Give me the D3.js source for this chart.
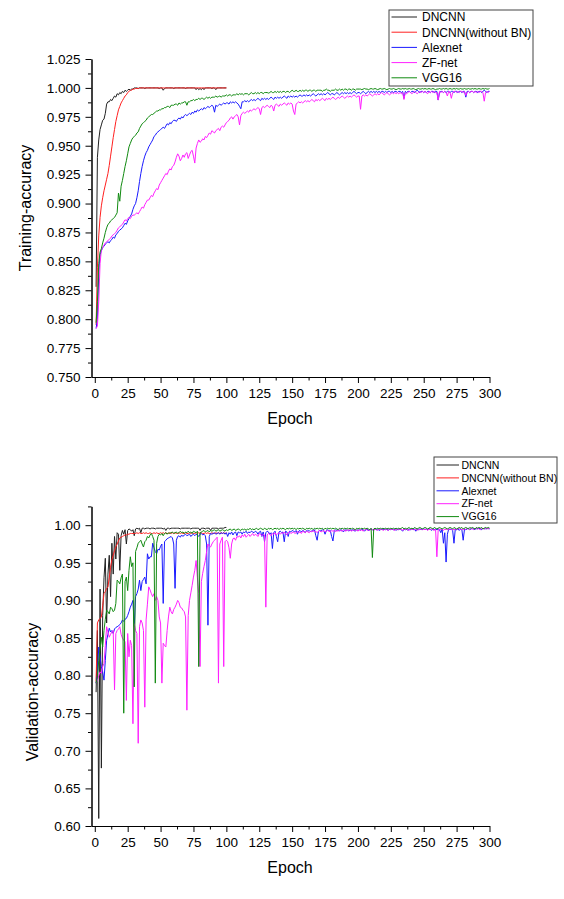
<!DOCTYPE html>
<html>
<head>
<meta charset="utf-8">
<script src="https://d3js.org/d3.v7.min.js"></script>
<style>
  body { margin: 0; background: #fff; }
  svg { display: block; font-family: "Liberation Sans", Arial, sans-serif; }
</style>
</head>
<body>
<div id="chart"></div>
<script>
// accuracy values are kept in thousandths, one value per epoch (epoch 1 first)
const seriesNames = ["DNCNN", "DNCNN(without BN)", "Alexnet", "ZF-net", "VGG16"];
const seriesColors = ["#222222", "#ff2020", "#1a1aff", "#ff20ff", "#118a11"];

const epochTicks = [0, 25, 50, 75, 100, 125, 150, 175, 200, 225, 250, 275, 300];
const epochMinor = [12.5, 37.5, 62.5, 87.5, 112.5, 137.5, 162.5, 187.5, 212.5, 237.5, 262.5, 287.5];
const trainTicks = [0.750, 0.775, 0.800, 0.825, 0.850, 0.875, 0.900, 0.925, 0.950, 0.975, 1.000, 1.025];
const trainMinor = [0.7625, 0.7875, 0.8125, 0.8375, 0.8625, 0.8875, 0.9125, 0.9375, 0.9625, 0.9875, 1.0125];
const valTicks = [0.60, 0.65, 0.70, 0.75, 0.80, 0.85, 0.90, 0.95, 1.00];
const valMinor = [0.625, 0.675, 0.725, 0.775, 0.825, 0.875, 0.925, 0.975, 1.025];

// ---- training accuracy ----
const trainDncnn = [
  828,940,955,964,968,972,973,978,986,988,
  988,990,989,991,993,992,995,994,996,995,
  997,996,998,997,998,999,998,999,999,1000,
  1000,1000,999.5,1000,1000,1000,1000,999.5,1000,1000,
  1000,1000,1000,1000,1000,1000,1000,1000,999.5,1000,
  1000,998,999.5,1000,1000,1000,1000,1000,1000,999.5,
  1000,1000,1000,1000,1000,1000,1000,1000,999.5,1000,
  1000,1000,1000,1000,1000,1000,998.5,1000,998.5,999.5,
  998.5,1000,998.5,1000,1000,1000,1000,1000,999.5,1000,
  1000,998.5,1000,1000,1000,1000,1000,1000,1000,1000
];
const trainDncnnNoBn = [
  795,845,872,888,898,905,911,916,921,926,
  933,941,949,957,964,971,976,981,984,987,
  989,991,993,994,996,997,998,998,999,999,
  999.5,999.5,999.5,1000,1000,1000,1000,1000,1000,1000,
  1000,1000,1000,1000,1000,1000,1000,1000,1000,1000,
  1000,1000,1000,1000,1000,1000,1000,1000,1000,1000,
  1000,1000,1000,1000,1000,1000,1000,1000,1000,1000,
  1000,1000,1000,1000,1000,1000,1000,1000,1000,1000,
  1000,1000,1000,1000,1000,1000,1000,1000,1000,1000,
  1000,1000,1000,1000,1000,1000,1000,1000,1000,1000
];
const trainAlexnet = [
  792,800,840,856,859,862,863,865,866,867,
  866,868,869,871,870,873,874,876,877,878,
  879,881,883,882,885,887,889,891,895,898,
  900,905,911,919,926,932,937,941,944,946,
  949,951,953,955,958,959,961,962,963,964,
  965,966,965,967,969,968,970,969,971,972,
  972,971,973,974,973,975,974,976,977,976,
  977,978,977,979,978,980,979,981,980,981,
  982,981,983,982,983,984,983,984,985,984,
  979,985,984,985,986,985,986,987,986,987,
  987,986,988,987,988,987,988,987,986,984,
  982,988,988,989,988,989,988,989,990,989,
  990,989,990,991,990,989,991,990,991,990,
  991,990,991,992,991,990,992,991,992,991,
  992,991,992,993,992,991,993,992,993,992,
  993,992,993,992,993,994,993,993,994,993,
  994,993,994,993,994,995,994,993,994,995,
  994,995,994,995,994,995,996,995,994,995,
  995,994,995,996,995,994,995,996,995,996,
  995,996,995,996,995,996,997,996,995,996,
  996,995,996,997,996,995,996,997,996,997,
  996,997,996,997,996,997,996,997,997,996,
  997,996,997,997,996,997,996,997,997,996,
  997,997,996,997,991,997,996,997,997,996,
  997,997,996,997,998,997,996,997,997,996,
  997,996,997,997,996,997,997,996,997,997,
  989.5,996,997,997,996,997,996,997,997,996,
  997,997,996,997,997,996,997,997,996,997,
  997,992,997,997,996,997,997,996,997,997,
  996,997,997,996,997,998,997,996,997,997
];
const trainZfnet = [
  792,794,815,848,860,862,864,866,867,868,
  869,870,872,873,874,875,877,879,880,881,
  882,884,886,885,887,888,887,889,890,890,
  891,892,891,893,895,897,896,899,901,903,
  903,905,907,906,909,911,913,912,916,918,
  920,922,924,926,925,928,930,929,932,933,
  936,940,943,941,937,939,942,940,943,944,
  939,942,945,946,941,935,948,952,955,953,
  954,956,955,958,957,959,961,960,963,962,
  961,963,964,965,963,966,967,966,968,970,
  971,972,974,975,973,975,976,977,975,968,
  976,978,979,978,979,980,979,981,980,981,
  982,981,982,983,982,977,983,984,983,984,
  985,984,983,985,984,980,985,986,985,984,
  986,985,986,987,986,985,987,986,987,986,
  980,977,986,987,988,987,988,987,988,989,
  988,989,988,989,990,989,988,990,989,990,
  989,990,991,990,989,991,990,991,990,991,
  992,991,990,991,992,991,992,993,992,991,
  992,993,992,993,992,993,994,993,992,993,
  993,981.5,993,994,993,994,993,994,995,994,
  993,994,995,994,995,994,995,996,995,994,
  995,996,995,994,995,996,995,996,995,996,
  995,996,995,996,990,996,995,996,997,996,
  995,996,997,996,995,996,997,996,997,996,
  997,996,995,997,996,997,996,997,996,996,
  989.5,997,996,997,996,997,996,993,997,996,
  991,996,997,997,996,997,996,997,997,996,
  997,993.5,996,997,996,997,997,996,997,996,
  997,996,997,997,996,988.5,996,997,996,997
];
const trainVgg16 = [
  797,815,848,858,861,866,870,875,879,882,
  883,885,886,887,888,890,892,909,902,915,
  920,926,932,937,943,949,952,955,957,958,
  959,961,962,965,967,969,970,971,972,974,
  975,976,977,977,978,979,980,980,981,981,
  982,982,983,983,984,984,983,985,985,985,
  986,986,985,987,986,987,987,988,988,985,
  988,988,989,989,990,989,990,990,991,990,
  991,991,990,991,992,991,992,991,992,992,
  992,993,992,992.5,993,992,993,993,993,994,
  993,994,994,993,994,994,994,995,994,995,
  994.5,995,994,995,995,995,994,995,996,995,
  995,996,995,996,995,996,996,995,996,996,
  996,995.5,996,997,996,996,997,996,997,996,
  997,996,997,997,996,997,997,996,997,998,
  997,997,998,997,997,998,997,998,997,998,
  998,997,998,998,997,998,998,997,998,998,
  998,998,997,998,998,999,998,998,997,998,
  998,998,999,998,998,999,998,999,998,999,
  999,998,999,999,998,999,999,998,999,999,
  999,999,998.5,999,999.5,999,999,998.5,999,999.5,
  999,999,999.5,999,998.5,999,999.5,999,999,999.5,
  999,998.5,999,999.5,999,999,999.5,999,998.5,999,
  999.5,999,999,999.5,999,999.5,999,999,999.5,999,
  999,999.5,999,998.5,999,999.5,999,999,999.5,999,
  999.5,999,999,999.5,999,999,999.5,999,998.5,999,
  999,999.5,999,999,999.5,999,999.5,999,999,999.5,
  999,999,999.5,999,999.5,999,999,999.5,999,999,
  999.5,999,999,999.5,999,999,999.5,999,999.5,999,
  999,999.5,999,999,999.5,999,999.5,999,999,999.5
];

// ---- validation accuracy ----
const valDncnn = [
  778,860,610,915,677,880,930,956,870,935,
  960,905,976,935,985,955,990,988,940,986,
  993,988,994,975,993,995,994,992,994,986,
  995,996,995,996,990,996,996,995,996,996,
  996,995,996,996,996,995,996,996,996,996,
  996,995,996,993,996,996,995,996,996,996,
  996,996,996,996,995,996,996,996,996,996,
  996,996,995,996,996,996,996,996,996,993,
  996,996,996,995,996,996,996,993,996,996,
  996,996,996,995,996,996,996,996,997,997
];
const valDncnnNoBn = [
  792,870,874,876,878,893,909,912,916,918,
  930,944,954,960,966,971,975,979,983,984,
  985,986,987,987,988,988,989,989,989,989,
  989,990,989,990,989,989,990,989,990,989,
  989,990,989,989,990,989,990,989,989,990,
  989,990,989,990,989,989,990,989,990,989,
  990,989,989,990,989,990,989,989,990,989,
  989,990,989,990,989,989,990,989,990,989,
  990,989,989,990,989,990,989,989,990,989,
  989,990,989,990,989,990,989,990,989,990
];
const valAlexnet = [
  790,800,838,825,812,805,794,820,847,855,
  863,858,860,856,862,864,865,866,868,870,
  874,872,875,876,880,885,891,895,900,865,
  905,909,915,927,913,925,928,931,922,962,
  955,958,958,976,970,965,962,968,967,972,
  975,896,978,980,982,983,984,985,983,975,
  916,980,985,986,984,987,985,987,988,986,
  987,988,985,987,988,986,988,987,985,988,
  989,987,988,986,975,867,985,989,988,989,
  990,988,989,990,988,990,989,990,988,990,
  985,990,988,991,987,990,991,986,991,990,
  991,988,991,990,992,989,991,990,992,991,
  990,992,991,988,991,992,985,991,978,990,
  992,991,988,990,969,990,992,985,978,991,
  992,990,991,978,992,991,985,992,991,993,
  992,991,993,988,992,993,991,993,992,990,
  993,992,993,991,993,992,994,986,980,992,
  993,992,994,993,988,993,994,992,993,985,
  979,992,994,993,994,992,994,993,991,994,
  993,994,992,994,993,994,993,992,994,993,
  994,993,995,994,992,994,995,993,994,995,
  994,993,995,994,995,993,994,995,994,995,
  994,995,993,995,994,995,994,995,993,995,
  994,995,994,992,995,994,995,993,995,994,
  995,994,995,992,995,994,995,994,995,995,
  994,995,994,995,995,993,995,994,995,994,
  995,994,990,995,976,990,951,988,995,994,
  995,993,976,995,994,995,993,995,994,980,
  995,994,995,996,994,995,996,995,994,996,
  995,996,995,994,996,995,996,995,996,995
];
const valZfnet = [
  790,794,800,805,803,812,816,840,865,858,
  851,855,858,860,781,856,860,862,865,855,
  850,847,845,767,856,825,847,840,736,869,
  860,856,710,865,874,870,860,758,874,895,
  918,914,909,905,909,900,905,900,878,870,
  790,843,840,838,860,878,891,885,882,888,
  891,895,900,897,891,890,887,885,878,754,
  880,900,910,920,931,940,953,930,909,812,
  925,936,945,953,965,975,972,971,975,978,
  980,982,984,790,975,980,984,812,978,980,
  978,970,956,975,982,983,980,985,984,986,
  983,987,985,988,984,986,988,985,987,989,
  986,988,987,985,989,988,986,988,987,891,
  987,989,988,986,989,988,990,987,989,990,
  988,990,989,991,989,987,990,991,989,990,
  991,989,990,992,990,991,989,992,991,990,
  992,991,990,992,991,993,991,992,990,992,
  993,991,992,993,991,992,993,992,991,993,
  992,993,991,993,992,994,993,992,994,993,
  992,994,993,994,992,993,994,993,994,992,
  994,993,994,992,994,995,993,994,993,995,
  994,993,995,994,993,995,994,995,993,994,
  995,994,993,995,994,995,994,993,995,994,
  995,994,995,993,995,994,995,994,993,995,
  994,995,994,995,993,995,994,995,994,995,
  994,995,993,995,994,995,994,993,995,958,
  994,995,994,995,993,995,994,995,994,995,
  994,995,994,995,994,995,996,995,994,995,
  995,994,996,995,994,996,995,994,996,995,
  996,995,994,996,995,996,995,996,995,996
];
const valVgg16 = [
  790,798,820,835,851,838,860,875,887,885,
  882,891,889,885,887,896,927,925,922,930,
  935,750,925,931,913,940,958,945,950,785,
  965,970,976,978,980,975,971,978,980,985,
  983,987,989,985,980,790,976,985,988,987,
  989,986,989,990,988,990,989,990,991,989,
  990,991,989,990,992,990,991,989,991,990,
  992,990,991,989,992,991,990,992,812,990,
  991,992,993,991,992,993,991,993,992,993,
  994,992,993,994,992,993,994,993,992,994,
  993,994,995,993,994,995,993,994,995,994,
  993,995,994,995,993,995,994,996,994,995,
  994,995,996,994,995,996,995,994,996,995,
  994,996,995,996,994,995,996,995,996,994,
  996,995,996,995,994,996,995,996,995,996,
  995,996,994,996,995,996,995,996,995,994,
  996,995,996,995,996,994,996,995,996,995,
  996,995,996,994,996,995,996,995,996,995,
  996,995,996,995,994,996,995,996,995,996,
  995,996,995,996,995,996,995,994,996,995,
  996,995,996,995,996,995,996,995,994,996,
  957,995,996,995,996,995,996,995,996,995,
  996,995,996,995,996,995,996,995,996,995,
  996,995,996,997,995,996,995,996,997,995,
  996,995,997,996,995,996,997,996,995,996,
  997,996,995,996,997,996,995,997,996,995,
  996,997,996,995,996,997,996,995,996,997,
  996,995,997,996,995,996,997,996,997,995,
  996,997,996,995,997,996,997,996,995,997,
  996,997,996,997,995,996,997,996,997,996
];

const width = 564, height = 899;
const svg = d3.select("#chart").append("svg")
  .attr("width", width)
  .attr("height", height);

function styleAxis(sel, size) {
  sel.selectAll("path, line").attr("stroke", "#000").attr("stroke-width", 1);
  sel.selectAll("text").attr("fill", "#000").style("font-size", size + "px")
    .style("font-family", "'Liberation Sans', Arial, sans-serif");
}

function drawPanel(opt) {
  const x = d3.scaleLinear().domain([-2.5, 300]).range([91.5, 489.5]);
  const y = d3.scaleLinear().domain(opt.yDomain).range(opt.yRange);
  const g = svg.append("g");
  const bottom = opt.yRange[0];

  // data lines, legend order so later ones sit on top
  const line = d3.line()
    .x((d, i) => x(i + 1))
    .y(d => y(d / 1000));
  opt.series.forEach((vals, k) => {
    g.append("path")
      .datum(vals)
      .attr("fill", "none")
      .attr("stroke", seriesColors[k])
      .attr("stroke-width", 1)
      .attr("stroke-linejoin", "round")
      .attr("d", line);
  });

  // x axis: minor then major ticks
  g.append("g")
    .attr("transform", "translate(0," + bottom + ")")
    .call(d3.axisBottom(x).tickValues(epochMinor).tickSize(3.5).tickSizeOuter(0).tickFormat(""))
    .call(s => styleAxis(s, 13.5));
  g.append("g")
    .attr("transform", "translate(0," + bottom + ")")
    .call(d3.axisBottom(x).tickValues(epochTicks).tickSize(6).tickSizeOuter(0).tickPadding(5))
    .call(s => styleAxis(s, 13.5));

  // y axis
  g.append("g")
    .attr("transform", "translate(" + x(-2.5) + ",0)")
    .call(d3.axisLeft(y).tickValues(opt.yMinor).tickSize(3.5).tickSizeOuter(0).tickFormat(""))
    .call(s => styleAxis(s, 13.5));
  g.append("g")
    .attr("transform", "translate(" + x(-2.5) + ",0)")
    .call(d3.axisLeft(y).tickValues(opt.yTicks).tickSize(6).tickSizeOuter(0).tickPadding(5)
      .tickFormat(d3.format(opt.yFormat)))
    .call(s => styleAxis(s, 13.5));

  // axis titles
  g.append("text")
    .attr("x", 290)
    .attr("y", bottom + 47)
    .attr("text-anchor", "middle")
    .style("font-size", "16px")
    .text("Epoch");
  g.append("text")
    .attr("transform", "translate(" + opt.yTitleX + "," + opt.yTitleY + ")rotate(-90)")
    .attr("text-anchor", "middle")
    .style("font-size", "16px")
    .text(opt.yTitle);

  // legend
  const lg = opt.legend;
  g.append("rect")
    .attr("x", lg.x).attr("y", lg.y)
    .attr("width", lg.w).attr("height", lg.h)
    .attr("fill", "#fff")
    .attr("stroke", "#444")
    .attr("stroke-width", 1);
  seriesNames.forEach((name, k) => {
    const ry = lg.y + lg.first + k * lg.step;
    g.append("line")
      .attr("x1", lg.x + 2.5).attr("x2", lg.x + lg.lineLen)
      .attr("y1", ry).attr("y2", ry)
      .attr("stroke", seriesColors[k])
      .attr("stroke-width", 1);
    g.append("text")
      .attr("x", lg.x + lg.textX)
      .attr("y", ry)
      .attr("dy", "0.36em")
      .style("font-size", lg.font + "px")
      .text(name);
  });
}

drawPanel({
  yDomain: [0.75, 1.025],
  yRange: [377, 59],
  yTicks: trainTicks,
  yMinor: trainMinor,
  yFormat: ".3f",
  yTitle: "Training-accuracy",
  yTitleX: 31,
  yTitleY: 208,
  series: [trainDncnn, trainDncnnNoBn, trainAlexnet, trainZfnet, trainVgg16],
  legend: { x: 389, y: 10, w: 144, h: 76, first: 7, step: 15.2, lineLen: 28, textX: 33, font: 12 }
});

drawPanel({
  yDomain: [0.60, 1.025],
  yRange: [826, 506.4],
  yTicks: valTicks,
  yMinor: valMinor,
  yFormat: ".2f",
  yTitle: "Validation-accuracy",
  yTitleX: 38,
  yTitleY: 692,
  series: [valDncnn, valDncnnNoBn, valAlexnet, valZfnet, valVgg16],
  legend: { x: 434, y: 457, w: 123, h: 66, first: 8, step: 12.9, lineLen: 25, textX: 27.5, font: 10.5 }
});
</script>
</body>
</html>
